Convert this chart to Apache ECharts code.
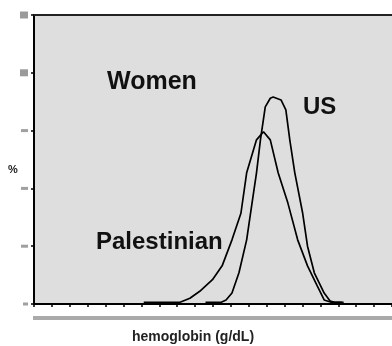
<!DOCTYPE html>
<html>
<head>
<meta charset="utf-8">
<script src="https://cdn.jsdelivr.net/npm/echarts@6/dist/echarts.min.js"></script>
<style>
html,body{margin:0;padding:0;background:#fff;}
#c{width:392px;height:346px;}
</style>
</head>
<body>
<div id="c"></div>
<script>
// hemoglobin axis in tick units, distribution in % tick units
var yTicks = [0, 1, 2, 3, 4, 5];
var palestinianX = [6.13, 8.16, 8.71, 9.26, 9.97, 10.51, 11.06, 11.56, 11.88, 12.43, 12.82, 13.20, 13.64, 14.18, 14.73, 15.28, 15.83, 16.21, 16.6, 17.2];
var palestinianY = [0.03, 0.03, 0.10, 0.22, 0.42, 0.66, 1.11, 1.57, 2.27, 2.84, 2.98, 2.84, 2.27, 1.75, 1.11, 0.66, 0.31, 0.07, 0.03, 0.03];
var usX = [9.58, 10.46, 10.73, 11.06, 11.45, 11.88, 12.16, 12.43, 12.65, 12.92, 13.20, 13.36, 13.80, 14.07, 14.29, 14.57, 15.01, 15.28, 15.66, 16.21, 16.54, 16.8, 17.3];
var usY = [0.03, 0.03, 0.07, 0.19, 0.54, 1.11, 1.70, 2.27, 2.84, 3.41, 3.56, 3.58, 3.53, 3.36, 2.84, 2.27, 1.57, 1.00, 0.54, 0.19, 0.05, 0.03, 0.03];
var labels = {women: 'Women', us: 'US', pal: 'Palestinian', xName: 'hemoglobin (g/dL)', yName: '%'};

function pairs(xs, ys){ return xs.map(function(x,i){ return [x, ys[i]]; }); }

var chart = echarts.init(document.getElementById('c'), null, {renderer:'canvas'});
var font = '"Liberation Sans", Arial, sans-serif';
chart.setOption({
  animation: false,
  backgroundColor: '#fff',
  grid: {left: 34, top: 15, right: -6, bottom: 42, show: true, backgroundColor: '#dedede', borderWidth: 0},
  xAxis: [{
    type: 'value', min: 0, max: 20, interval: 1,
    axisLine: {show: true, onZero: false, lineStyle: {color: '#000', width: 2}},
    axisTick: {show: true, length: 3, lineStyle: {color: '#000', width: 1.5}},
    axisLabel: {show: false},
    splitLine: {show: false}
  }, {
    type: 'value', position: 'top', min: 0, max: 20,
    axisLine: {show: true, onZero: false, lineStyle: {color: '#222', width: 2}},
    axisTick: {show: false}, axisLabel: {show: false}, splitLine: {show: false}
  }],
  yAxis: {
    type: 'value', min: 0, max: 5, interval: 1,
    axisLine: {show: true, onZero: false, lineStyle: {color: '#000', width: 2}},
    axisTick: {show: true, length: 3, lineStyle: {color: '#000', width: 1.5}},
    splitLine: {show: false},
    axisLabel: {
      margin: 6,
      formatter: function(v){
        if (v === 0) return '{s|}';
        if (v >= 4) return '{b|}';
        return '{m|}';
      },
      rich: {
        b: {width: 8, height: 7, backgroundColor: '#9a9a9a'},
        m: {width: 7, height: 3, backgroundColor: '#a0a0a0'},
        s: {width: 5, height: 3, backgroundColor: '#a0a0a0'}
      }
    }
  },
  series: [{
    name: 'Palestinian', type: 'line', data: pairs(palestinianX, palestinianY),
    showSymbol: false, smooth: false, lineStyle: {color: '#000', width: 1.7}
  }, {
    name: 'US', type: 'line', data: pairs(usX, usY),
    showSymbol: false, smooth: false, lineStyle: {color: '#000', width: 1.7}
  }],
  graphic: [
    {type: 'rect', shape: {x: 33, y: 316, width: 359, height: 4}, style: {fill: '#aaaaaa'}},
    {type: 'text', x: 107, y: 82, style: {text: labels.women, font: 'bold 25px ' + font, fill: '#111', verticalAlign: 'middle', align: 'left'}},
    {type: 'text', x: 303, y: 107.5, style: {text: labels.us, font: 'bold 24px ' + font, fill: '#111', verticalAlign: 'middle', align: 'left'}},
    {type: 'text', x: 96, y: 242, style: {text: labels.pal, font: 'bold 24px ' + font, fill: '#111', verticalAlign: 'middle', align: 'left'}},
    {type: 'text', x: 193, y: 337, style: {text: labels.xName, font: 'bold 14px ' + font, fill: '#222', verticalAlign: 'middle', align: 'center'}},
    {type: 'text', x: 13, y: 170, style: {text: labels.yName, font: 'bold 11px ' + font, fill: '#222', verticalAlign: 'middle', align: 'center'}}
  ]
});
</script>
</body>
</html>
